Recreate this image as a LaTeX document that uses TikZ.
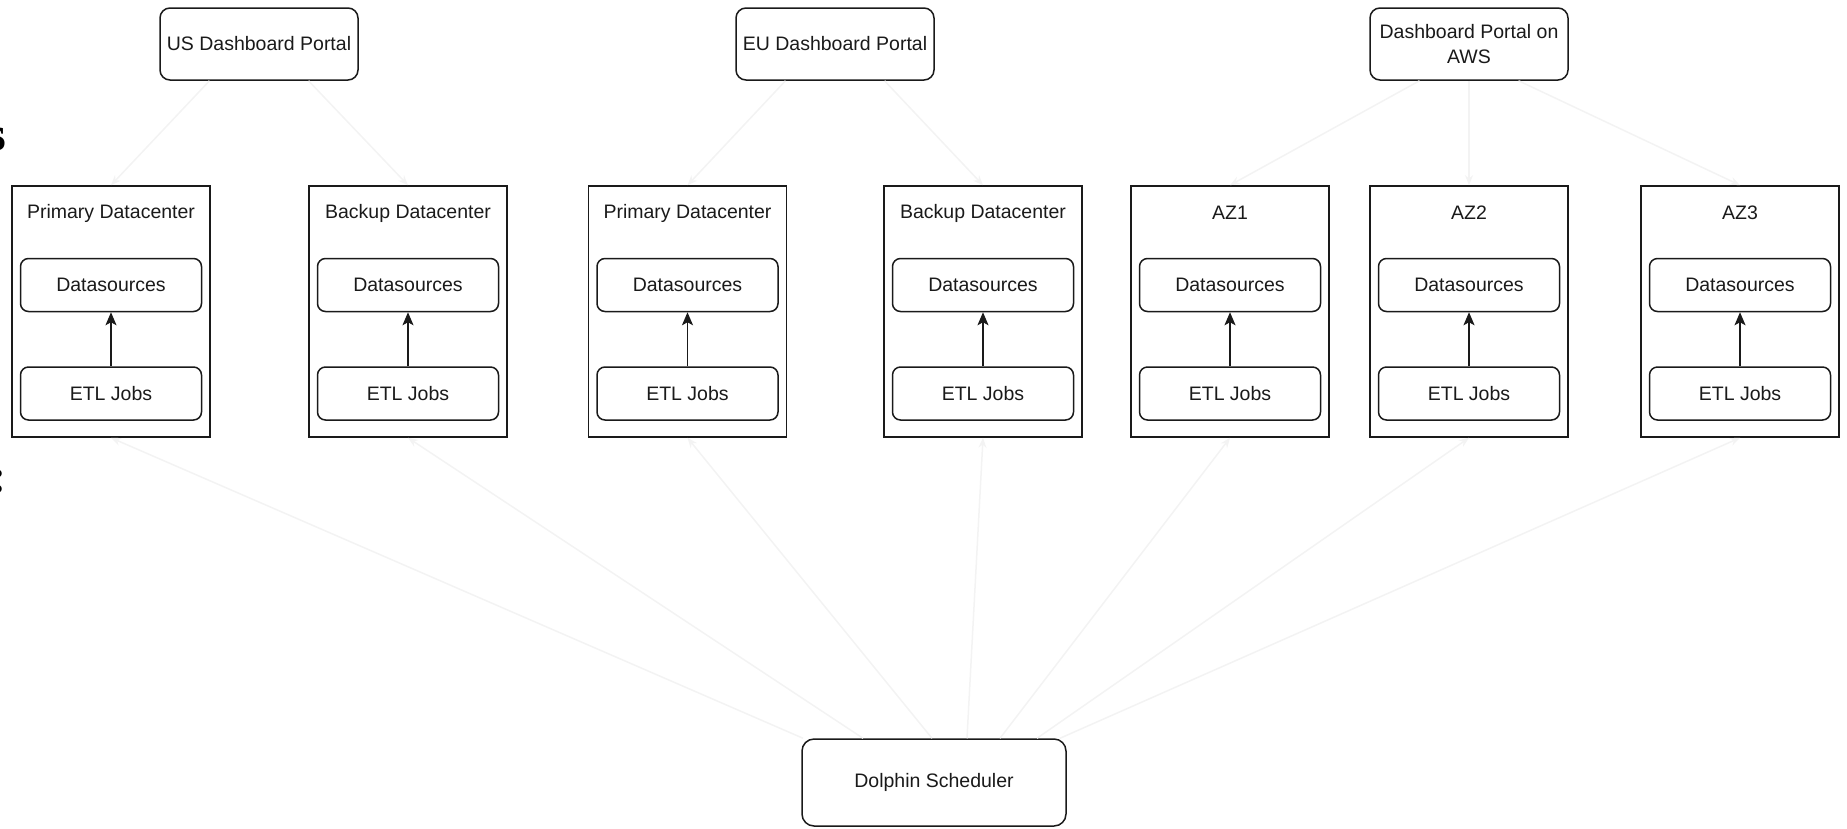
\documentclass[tikz,border=0pt]{standalone}
\usepackage{fontspec}
\setmainfont{Liberation Sans}
\newfontfamily\edgefont{Liberation Serif}
\usepackage{xcolor}
\definecolor{diaInk}{HTML}{1A1A1A}
\definecolor{diaFaint}{HTML}{F3F3F3}
\usetikzlibrary{arrows.meta,positioning}
\tikzset{
    portal/.style={
        draw=diaInk,
        fill=white,
        rectangle,
        rounded corners=10pt,
        align=center,
        minimum height=72pt,
        minimum width=198pt,
        line width=1.5pt,
        inner sep=0pt,
        text=diaInk,
        font=\fontsize{19.5}{25}\selectfont
    },
    site/.style={
        draw=diaInk,
        rectangle,
        minimum height=251pt,
        minimum width=198pt,
        line width=1.6pt
    },
    sitetitle/.style={
        inner sep=0pt,
        text=diaInk,
        font=\fontsize{19.5}{23}\selectfont
    },
    task/.style={
        draw=diaInk,
        fill=white,
        rectangle,
        rounded corners=8pt,
        align=center,
        minimum height=53pt,
        minimum width=181pt,
        line width=1.5pt,
        inner sep=0pt,
        text=diaInk,
        font=\fontsize{19.5}{23}\selectfont
    },
    scheduler/.style={
        task,
        rounded corners=12pt,
        minimum height=87pt,
        minimum width=264pt
    },
    edgemark/.style={
        inner sep=0pt,
        text=black,
        font=\edgefont\bfseries\fontsize{48}{48}\selectfont
    },
    arrow/.style={
        -{Stealth[length=13pt,width=11pt,inset=3pt]},
        line width=1.6pt,
        color=diaInk
    },
    faintarrow/.style={
        -{Stealth[length=10pt,width=8pt]},
        line width=1.5pt,
        color=diaFaint
    }
}

\begin{document}
\begin{tikzpicture}[x=1pt, y=-1pt]
    \useasboundingbox (0,0) rectangle (1847,828);

    % Cut-off text at the left edge
    \node[edgemark, anchor=base east] (edges) at (6,150) {s};
    \node[edgemark, anchor=base east] (edgecolon) at (7,492) {:};

    % Dashboard portals
    \node[portal] (usportal) at (259,44) {US Dashboard Portal};
    \node[portal] (euportal) at (835,44) {EU Dashboard Portal};
    \node[portal] (awsportal) at (1469,44) {Dashboard Portal on\\AWS};

    % US sites
    \node[site] (usprimary) at (111,311.5) {};
    \node[sitetitle] (usprimarytitle) at (111,213) {Primary Datacenter};
    \node[task] (usprimaryds) at (111,285) {Datasources};
    \node[task, below=54pt of usprimaryds] (usprimaryetl) {ETL Jobs};

    \node[site] (usbackup) at (408,311.5) {};
    \node[sitetitle] (usbackuptitle) at (408,213) {Backup Datacenter};
    \node[task] (usbackupds) at (408,285) {Datasources};
    \node[task, below=54pt of usbackupds] (usbackupetl) {ETL Jobs};

    % EU sites
    \node[site] (euprimary) at (687.5,311.5) {};
    \node[sitetitle] (euprimarytitle) at (687.5,213) {Primary Datacenter};
    \node[task] (euprimaryds) at (687.5,285) {Datasources};
    \node[task, below=54pt of euprimaryds] (euprimaryetl) {ETL Jobs};

    \node[site] (eubackup) at (983,311.5) {};
    \node[sitetitle] (eubackuptitle) at (983,213) {Backup Datacenter};
    \node[task] (eubackupds) at (983,285) {Datasources};
    \node[task, below=54pt of eubackupds] (eubackupetl) {ETL Jobs};

    % AWS zones
    \node[site] (az1) at (1230,311.5) {};
    \node[sitetitle] (az1title) at (1230,213) {AZ1};
    \node[task] (az1ds) at (1230,285) {Datasources};
    \node[task, below=54pt of az1ds] (az1etl) {ETL Jobs};

    \node[site] (az2) at (1469,311.5) {};
    \node[sitetitle] (az2title) at (1469,213) {AZ2};
    \node[task] (az2ds) at (1469,285) {Datasources};
    \node[task, below=54pt of az2ds] (az2etl) {ETL Jobs};

    \node[site] (az3) at (1740,311.5) {};
    \node[sitetitle] (az3title) at (1740,213) {AZ3};
    \node[task] (az3ds) at (1740,285) {Datasources};
    \node[task, below=54pt of az3ds] (az3etl) {ETL Jobs};

    % Scheduler
    \node[scheduler] (sched) at (934,782.5) {Dolphin Scheduler};

    % ETL into datasources
    \draw[arrow] (usprimaryetl) -- (usprimaryds);
    \draw[arrow] (usbackupetl) -- (usbackupds);
    \draw[arrow] (euprimaryetl) -- (euprimaryds);
    \draw[arrow] (eubackupetl) -- (eubackupds);
    \draw[arrow] (az1etl) -- (az1ds);
    \draw[arrow] (az2etl) -- (az2ds);
    \draw[arrow] (az3etl) -- (az3ds);

    % Portals to sites
    \draw[faintarrow] ([xshift=-49.5pt]usportal.south) -- (usprimary.north);
    \draw[faintarrow] ([xshift=49.5pt]usportal.south) -- (usbackup.north);
    \draw[faintarrow] ([xshift=-49.5pt]euportal.south) -- (euprimary.north);
    \draw[faintarrow] ([xshift=49.5pt]euportal.south) -- (eubackup.north);
    \draw[faintarrow] ([xshift=-49.5pt]awsportal.south) -- (az1.north);
    \draw[faintarrow] (awsportal.south) -- (az2.north);
    \draw[faintarrow] ([xshift=49.5pt]awsportal.south) -- (az3.north);

    % Scheduler to sites
    \draw[faintarrow] ([xshift=-131pt]sched.north) -- (usprimary.south);
    \draw[faintarrow] ([xshift=-71pt]sched.north) -- (usbackup.south);
    \draw[faintarrow] ([xshift=-2pt]sched.north) -- (euprimary.south);
    \draw[faintarrow] ([xshift=33pt]sched.north) -- (eubackup.south);
    \draw[faintarrow] ([xshift=66pt]sched.north) -- (az1.south);
    \draw[faintarrow] ([xshift=103pt]sched.north) -- (az2.south);
    \draw[faintarrow] ([xshift=126pt]sched.north) -- (az3.south);
\end{tikzpicture}
\end{document}
